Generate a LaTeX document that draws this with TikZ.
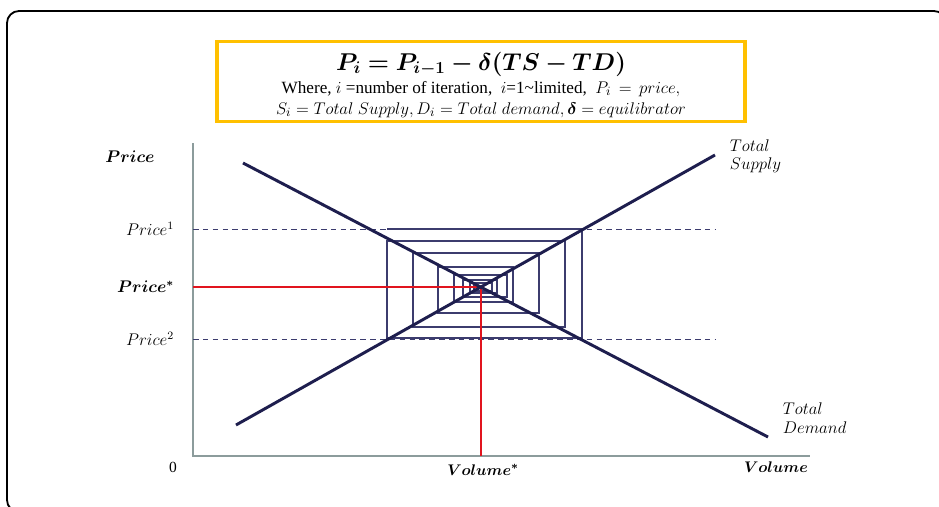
\documentclass[tikz,border=0pt]{standalone}
\usepackage{amsmath, amssymb}
\usepackage{bm}
\usepackage{fontspec}
\setmainfont{Liberation Serif}
\usepackage{xcolor}
\definecolor{axisgrey}{RGB}{140,156,156}
\definecolor{curvenavy}{RGB}{30,30,78}
\definecolor{webnavy}{RGB}{60,60,110}
\definecolor{boxgold}{RGB}{255,192,0}
\definecolor{eqred}{RGB}{225,20,30}

\begin{document}
\begin{tikzpicture}[x=0.025cm, y=-0.025cm]
  \useasboundingbox (0,0) rectangle (939,506);
  \clip (0,0) rectangle (939,506);

  % Outer frame
  \draw[line width=1.3pt, rounded corners=0.3cm] (7,11) rectangle (946,512);

  % Formula box
  \node[draw=boxgold, line width=2.6pt, minimum width=13.2cm, minimum height=2.0cm] (formbox) at (481,81.5) {};
  \node[font=\fontsize{17.5}{20}\selectfont] (formula) at (481,64)
    {$\bm{P_i = P_{i-1} - \delta(TS - TD)}$};
  \node[font=\fontsize{12.2}{14}\selectfont] (where) at (481,89)
    {Where, $i$ =number of iteration, \ $i$=1\textasciitilde limited, \ $P_i\,=\,price,$};
  \node[font=\fontsize{13}{14}\selectfont] (symbols) at (481,110)
    {$S_i = Total\ Supply, D_i = Total\ demand, \bm{\delta} = equilibrator$};

  % Axes
  \draw[axisgrey, line width=2pt] (193,143) -- (193,456) -- (810,456);

  % Dashed price levels
  \draw[webnavy, line width=0.6pt, dash pattern=on 4pt off 3pt] (193,229) -- (715,229);
  \draw[webnavy, line width=0.6pt, dash pattern=on 4pt off 3pt] (193,339) -- (716,339);

  % Cobweb spiral towards the equilibrium
  \draw[webnavy, line width=0.75pt]
    (387,229) -- (582,229) -- (582,338) -- (387,338)
    -- (387,241) -- (565,241) -- (565,327) -- (413,327)
    -- (413,253) -- (539,253) -- (539,313) -- (438,313)
    -- (438,267) -- (513,267) -- (513,302) -- (454,302)
    -- (454,275) -- (507,275) -- (507,297) -- (463,297)
    -- (463,280) -- (497,280) -- (497,293) -- (470,293)
    -- (470,283) -- (492,283) -- (492,291) -- (474,291) -- (474,285);

  % Equilibrium
  \coordinate (eq) at (481,287);
  \draw[eqred, line width=1.3pt] (193,287) -- (eq);
  \draw[eqred, line width=1.3pt] (eq) -- (481,456);

  % Total supply and total demand
  \draw[curvenavy, line width=2.1pt] (236,425) -- (715,155);
  \draw[curvenavy, line width=2.1pt] (243,163) -- (768,437);

  % Labels
  \node[font=\fontsize{12}{14}\selectfont] (price) at (130,157) {$\bm{Price}$};
  \node[anchor=east, font=\fontsize{11.5}{13}\selectfont] (price1) at (179,229) {$Price^{1}$};
  \node[anchor=east, font=\fontsize{11.5}{13}\selectfont] (pricestar) at (179,287) {$\bm{Price^{*}}$};
  \node[anchor=east, font=\fontsize{11.5}{13}\selectfont] (price2) at (179,339) {$Price^{2}$};
  \node[font=\fontsize{11}{13}\selectfont] (origin) at (173,467) {0};
  \node[font=\fontsize{11}{13}\selectfont] (volstar) at (483,470) {$\bm{Volume^{*}}$};
  \node[font=\fontsize{11}{13}\selectfont] (volume) at (776,467) {$\bm{Volume}$};
  \node[anchor=west, align=left, font=\fontsize{12}{13}\selectfont] (supply) at (725,156)
    {$Total$\\$Supply$};
  \node[anchor=west, align=left, font=\fontsize{12}{13}\selectfont] (demand) at (778,418)
    {$Total$\\$Demand$};

\end{tikzpicture}
\end{document}
